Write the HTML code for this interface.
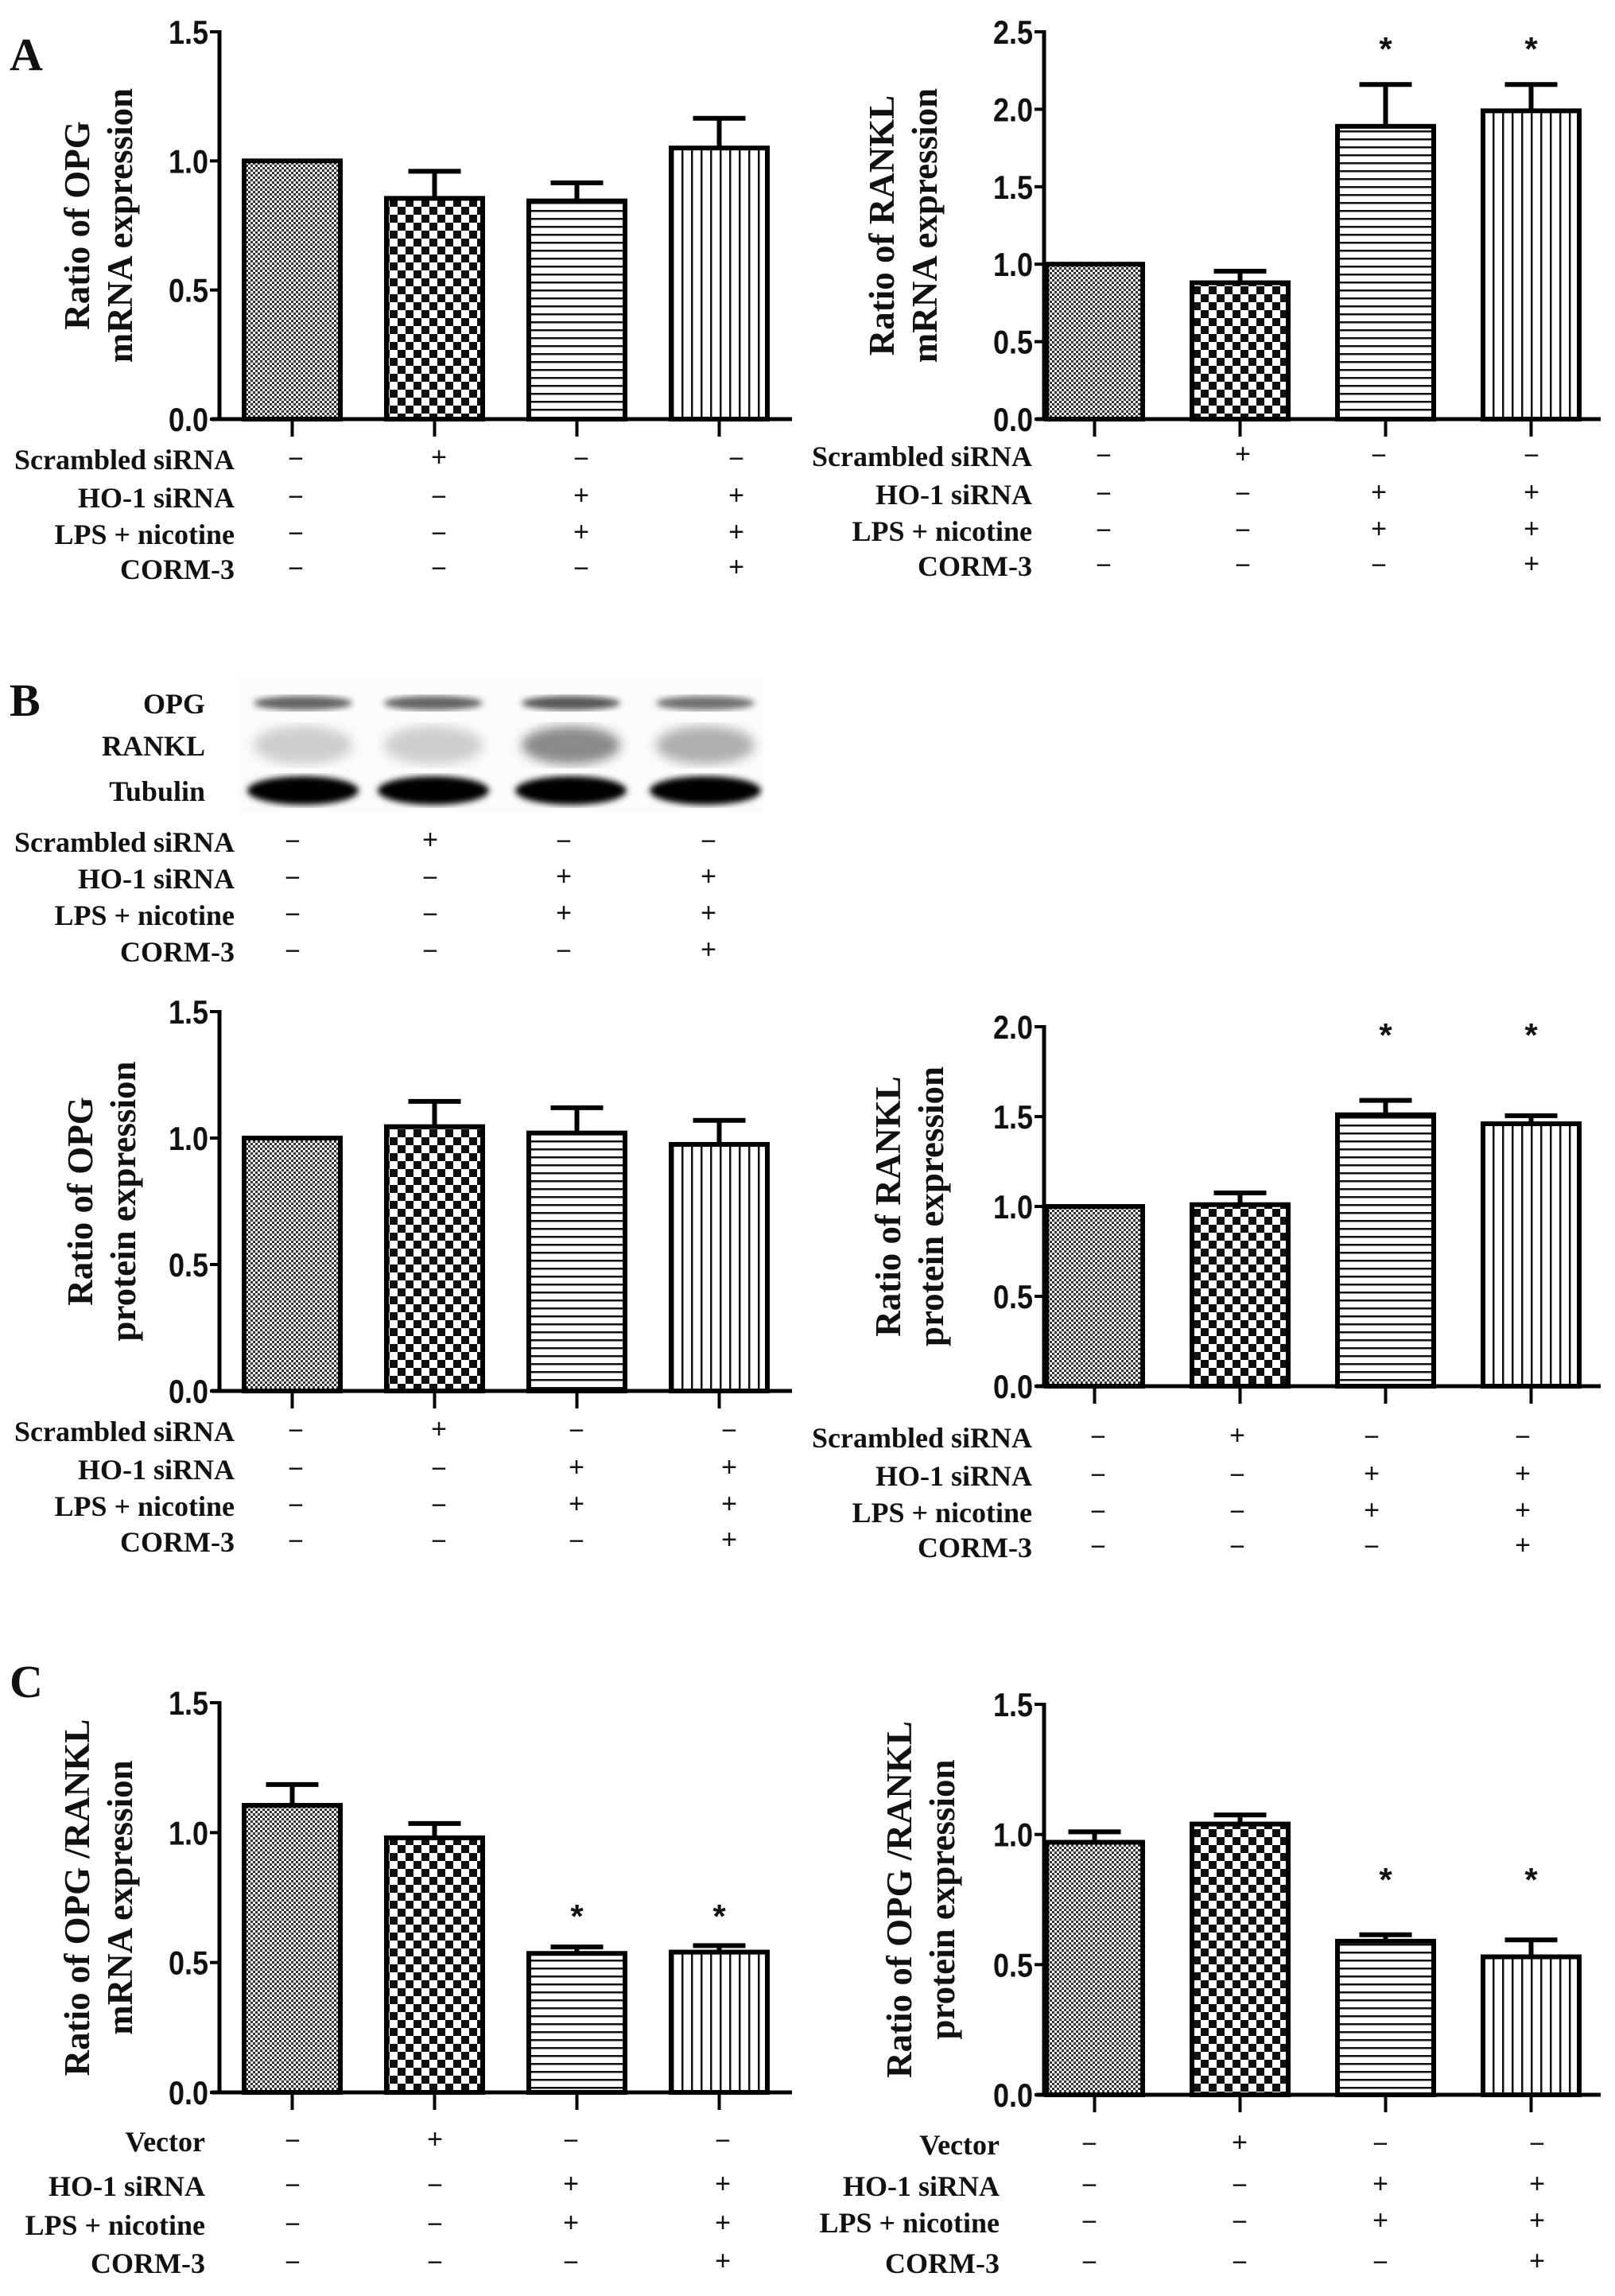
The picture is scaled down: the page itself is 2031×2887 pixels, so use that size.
<!DOCTYPE html>
<html><head><meta charset="utf-8">
<style>
html,body{margin:0;padding:0;background:#fff;}
svg{display:block;}
.tick{font-family:"Liberation Sans",Arial,sans-serif;font-weight:bold;font-size:42px;fill:#111;}
.lab{font-family:"Liberation Serif","Times New Roman",serif;font-weight:bold;font-size:36px;fill:#111;}
.ttl{font-family:"Liberation Serif","Times New Roman",serif;font-weight:bold;font-size:45px;fill:#111;}
.pl{font-family:"Liberation Serif","Times New Roman",serif;font-weight:bold;font-size:58px;fill:#111;}
.sym{font-family:"Liberation Sans",Arial,sans-serif;font-size:34px;fill:#111;}
</style></head>
<body>
<svg id="fig" width="2031" height="2887" viewBox="0 0 2031 2887" xmlns="http://www.w3.org/2000/svg">
<defs>
<pattern id="p-fine" width="6" height="6" patternUnits="userSpaceOnUse"><rect width="6" height="6" fill="#fff"/><rect width="3" height="3" fill="#333"/><rect x="3" y="3" width="3" height="3" fill="#333"/></pattern>
<pattern id="p-check" width="20" height="20" patternUnits="userSpaceOnUse"><rect width="20" height="20" fill="#fff"/><rect width="10" height="10" fill="#111"/><rect x="10" y="10" width="10" height="10" fill="#111"/></pattern>
<pattern id="p-hline" width="10" height="10" patternUnits="userSpaceOnUse"><rect width="10" height="10" fill="#fff"/><rect y="4" width="10" height="2.5" fill="#111"/></pattern>
<pattern id="p-vline" width="12" height="12" patternUnits="userSpaceOnUse"><rect width="12" height="12" fill="#fff"/><rect x="5" width="2.5" height="12" fill="#111"/></pattern>
<filter id="blur8"><feGaussianBlur stdDeviation="7"/></filter>
<filter id="blur5"><feGaussianBlur stdDeviation="4"/></filter>
</defs>
<text class="pl" x="12" y="88">A</text>
<text class="pl" x="12" y="900">B</text>
<text class="pl" x="12" y="2134">C</text>
<g id="blot"></g>
</svg>
<script>
// ---- data ----
const aOpgValues = [1.0, 0.855, 0.845, 1.05];
const aOpgErrors = [0.0, 0.105, 0.07, 0.115];
const aRanklValues = [1.0, 0.88, 1.89, 1.99];
const aRanklErrors = [0.0, 0.075, 0.27, 0.17];
const aRanklStars = [false, false, true, true];
const bOpgValues = [1.0, 1.045, 1.02, 0.975];
const bOpgErrors = [0.0, 0.1, 0.1, 0.095];
const bRanklValues = [1.0, 1.01, 1.51, 1.46];
const bRanklErrors = [0.0, 0.065, 0.08, 0.045];
const bRanklStars = [false, false, true, true];
const cMrnaValues = [1.105, 0.98, 0.535, 0.54];
const cMrnaErrors = [0.08, 0.055, 0.025, 0.025];
const cMrnaStars = [false, false, true, true];
const cProtValues = [0.97, 1.04, 0.59, 0.53];
const cProtErrors = [0.04, 0.035, 0.025, 0.065];
const cProtStars = [false, false, true, true];
const ticks15 = ["0.0","0.5","1.0","1.5"];
const ticks20 = ["0.0","0.5","1.0","1.5","2.0"];
const ticks25 = ["0.0","0.5","1.0","1.5","2.0","2.5"];
const rowsSiRNA = ["Scrambled siRNA","HO-1 siRNA","LPS + nicotine","CORM-3"];
const rowsVector = ["Vector","HO-1 siRNA","LPS + nicotine","CORM-3"];
const signs = [["−","+","−","−"],["−","−","+","+"],["−","−","+","+"],["−","−","−","+"]];
const blotRows = ["OPG","RANKL","Tubulin"];
const blotIntensity = [[0.6,0.6,0.65,0.55],[0.18,0.18,0.45,0.3],[1,1,1,1]];
const fills = ["url(#p-fine)","url(#p-check)","url(#p-hline)","url(#p-vline)"];

const NS = "http://www.w3.org/2000/svg";
const svg = document.getElementById('fig');
function mk(tag, attrs, parent){const e=document.createElementNS(NS,tag);for(const k in attrs)e.setAttribute(k,attrs[k]);(parent||svg).appendChild(e);return e;}

function chart(c){
  const g = mk('g',{});
  
  
  const ymax = parseFloat(c.ticks[c.ticks.length-1]);
  const y = v => c.y0 - v/ymax*(c.y0-c.yTop);
  const n = c.values.length;
  const x = i => c.xb0 + i*c.step;
  c.values.forEach((v,i)=>{
    const r = mk('rect',{x:x(i),y:y(v),width:c.bw,height:c.y0-y(v),fill:fills[i],stroke:'#000','stroke-width':6},g);
    
    
    const e = c.errors[i];
    if(e>0){
      const cx = x(i)+c.bw/2;
      const el = mk('path',{d:`M${cx} ${y(v)} V${y(v+e)} M${cx-33} ${y(v+e)} H${cx+33}`,stroke:'#000','stroke-width':6,fill:'none'},g);
      
      
    }
    if(c.stars && c.stars[i]){
      const s = mk('text',{x:x(i)+c.bw/2,y:c.starY,'text-anchor':'middle',class:'tick'},g);
      s.textContent='*';
      
      
    }
  });
  const ax = mk('path',{d:`M${c.ax} ${c.yTop-2} V${c.y0} M${c.ax-10} ${c.y0} H${c.ax+c.axLen}`,stroke:'#000','stroke-width':5,fill:'none'},g);
  
  
  c.ticks.forEach((t,j)=>{
    const v = parseFloat(t);
    mk('line',{x1:c.ax-12,x2:c.ax,y1:y(v),y2:y(v),stroke:'#000','stroke-width':4},g);
    const tl = mk('text',{x:c.ax-14,y:y(v)+15,'text-anchor':'end',class:'tick',textLength:50,lengthAdjust:'spacingAndGlyphs'},g);
    tl.textContent=t;
    
    
  });
  for(let i=0;i<n;i++){
    mk('line',{x1:x(i)+c.bw/2,x2:x(i)+c.bw/2,y1:c.y0,y2:c.y0+22,stroke:'#000','stroke-width':4},g);
  }
  const tt = mk('text',{transform:`translate(${c.tx},${(c.y0+c.yTop)/2}) rotate(-90)`,'text-anchor':'middle',class:'ttl'},g);
  
  
  c.title.forEach((line,k)=>{const ts=mk('tspan',{x:0,dy:k?54:0},tt);ts.textContent=line;});
  conditions(c.rows, c.rowY, c.labelRight, c.symX, c.name+'-conditions');
}
function conditions(rows, rowY, right, symX, name){
  const g = mk('g',{});
  
  
  rows.forEach((r,k)=>{
    const t = mk('text',{x:right,y:rowY[k]+12,'text-anchor':'end',class:'lab'},g);
    t.textContent=r;
    
    
    signs[k].forEach((s,i)=>{
      const st = mk('text',{x:symX[i],y:rowY[k]+(s==='+'?8:10),'text-anchor':'middle',class:'sym'},g);
      st.textContent=s;
      
      
    });
  });
}
const L = {ax:276, xb0:307, step:179, bw:121, axLen:720, tx:112, labelRight:295};
const R = {ax:1313, xb0:1316, step:183, bw:121, axLen:700, labelRight:1298};
chart(Object.assign({},L,{name:'chart-a-opg-mrna',values:aOpgValues,errors:aOpgErrors,ticks:ticks15,y0:527,yTop:40,title:['Ratio of OPG','mRNA expression'],rows:rowsSiRNA,rowY:[578,626,672,716],symX:[372,552,731,926]}));
chart(Object.assign({},R,{name:'chart-a-rankl-mrna',values:aRanklValues,errors:aRanklErrors,stars:aRanklStars,starY:76,ticks:ticks25,y0:527,yTop:40,tx:1124,title:['Ratio of RANKL','mRNA expression'],rows:rowsSiRNA,rowY:[574,622,668,712],symX:[1388,1563,1734,1926]}));
chart(Object.assign({},L,{name:'chart-b-opg-protein',values:bOpgValues,errors:bOpgErrors,ticks:ticks15,y0:1749,yTop:1272,tx:116,title:['Ratio of OPG','protein expression'],rows:rowsSiRNA,rowY:[1800,1848,1894,1939],symX:[372,552,725,917]}));
chart(Object.assign({},R,{name:'chart-b-rankl-protein',values:bRanklValues,errors:bRanklErrors,stars:bRanklStars,starY:1316,ticks:ticks20,y0:1743,yTop:1291,tx:1132,title:['Ratio of RANKL','protein expression'],rows:rowsSiRNA,rowY:[1808,1856,1902,1946],symX:[1381,1556,1725,1915]}));
chart(Object.assign({},L,{name:'chart-c-ratio-mrna',values:cMrnaValues,errors:cMrnaErrors,stars:cMrnaStars,starY:2424,ticks:ticks15,y0:2631,yTop:2141,tx:112,title:['Ratio of OPG /RANKL','mRNA expression'],rows:rowsVector,rowY:[2693,2749,2798,2846],labelRight:258,symX:[368,547,718,909]}));
chart(Object.assign({},R,{name:'chart-c-ratio-protein',values:cProtValues,errors:cProtErrors,stars:cProtStars,starY:2378,ticks:ticks15,y0:2634,yTop:2143,tx:1146,title:['Ratio of OPG /RANKL','protein expression'],rows:rowsVector,rowY:[2697,2749,2795,2846],labelRight:1257,symX:[1370,1559,1736,1933]}));
// blot
const blot = document.getElementById('blot');
const laneX = [381,545,718,887];
const bandY = [884,937,994];
const bandH = [9,24,18];
mk('rect',{x:300,y:852,width:660,height:170,fill:'#fbfbfb'},blot);
blotRows.forEach((r,k)=>{
  const t = mk('text',{x:258,y:bandY[k]+13,'text-anchor':'end',class:'lab'},blot);
  t.textContent=r;
  
  
  laneX.forEach((lx,i)=>{
    const a = blotIntensity[k][i];
    const b = mk('ellipse',{cx:lx,cy:bandY[k],rx:k===2?70:62,ry:bandH[k],fill:`rgba(0,0,0,${a})`,filter:k===1?'url(#blur8)':'url(#blur5)'},blot);
    
    
  });
});
conditions(rowsSiRNA,[1059,1105,1151,1197],295,[368,541,709,891],'blot-conditions');
</script>
</body></html>
